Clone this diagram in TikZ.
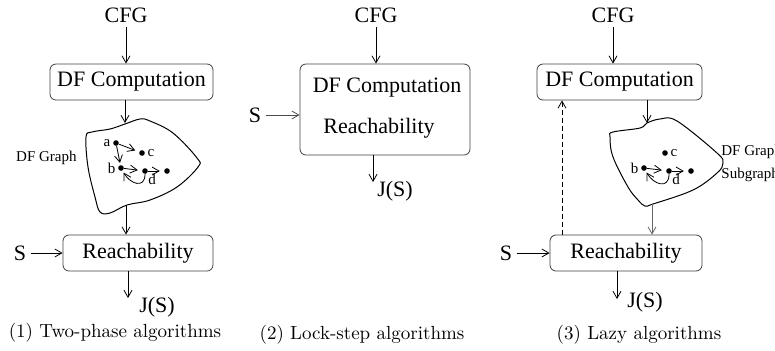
\documentclass[tikz,border=0pt]{standalone}
\usepackage{fontspec}
\newfontfamily\timesfont{Liberation Serif}
\usetikzlibrary{arrows.meta}

\tikzset{
  lbl/.style={font=\timesfont\fontsize{11}{13}\selectfont, inner sep=2pt},
  tiny/.style={font=\timesfont\fontsize{7.5}{9}\selectfont, inner sep=1pt},
  captxt/.style={font=\fontsize{9.5}{11}\selectfont, inner sep=0pt},
  stage/.style={draw=black!75, rounded corners=3pt, minimum height=18pt, inner sep=0pt,
    font=\timesfont\fontsize{11}{13}\selectfont},
  dot/.style={circle, fill, inner sep=0pt, minimum size=2.8pt},
  blob/.style={line width=0.5pt},
}

\begin{document}
\begin{tikzpicture}[x=0.5pt, y=-0.5pt, >={Straight Barb[length=3.5pt,width=4pt]}]
    \useasboundingbox (0,0) rectangle (775,350);

    % (1) Two-phase
    \node[lbl] (cfgA) at (126,15) {CFG};
    \node[stage, minimum width=81.5pt] (dfA) at (131.5,82) {DF Computation};
    \coordinate (topA) at (125,123);
    \coordinate (botA) at (126,206);
    \draw[blob] plot[smooth cycle, tension=0.6] coordinates {(125,124) (140,119) (150,121) (173,133)
      (197,158) (198,167) (177,187) (150,200) (127,205) (110,213) (100,212) (95,197) (88,167)
      (86,137) (92,132) (110,129)};
    \node[tiny, anchor=east] (grA) at (79,158) {DF Graph};
    \node[dot, label={[tiny]left:a}] (a) at (116,143) {};
    \node[dot, label={[tiny]right:c}] (c) at (142,153) {};
    \node[dot, label={[tiny]left:b}] (b) at (121,168) {};
    \node[dot, label={[tiny, label distance=-1pt]below right:d}] (d) at (145,171) {};
    \node[dot] (e) at (167,171) {};
    \draw[->, shorten >=2pt] (a) -- (c);
    \draw[->, shorten >=1pt] (a) -- (b);
    \draw[->, shorten >=2pt] (b) -- (d);
    \draw[->, shorten >=2pt] (d) -- (e);
    \draw[->, shorten >=1pt] (d) to[out=-90, in=-60, looseness=1.7] (b);
    \node[stage, minimum width=75pt] (reachA) at (138,253) {Reachability};
    \node[lbl] (sA) at (20,253) {S};
    \coordinate (endA) at (128,298);
    \node[lbl] (jsA) at (157,307) {J(S)};
    \draw[->] (cfgA) -- (cfgA |- dfA.north);
    \draw[->] (dfA.south -| topA) -- (topA);
    \draw[->] (botA) -- (botA |- reachA.north);
    \draw[->] (sA) -- (reachA);
    \draw[->] (reachA.south -| endA) -- (endA);
    \node[captxt] (capA) at (115,333) {(1) Two-phase algorithms};

    % (2) Lock-step
    \node[lbl] (cfgB) at (376,15) {CFG};
    \node[stage, minimum width=85pt, minimum height=45.5pt] (lockB) at (385,109.5) {};
    \node[lbl] (dfB) at (387,88) {DF Computation};
    \node[lbl] (reachB) at (379,128) {Reachability};
    \node[lbl] (sB) at (255,115) {S};
    \coordinate (endB) at (373,182);
    \node[lbl] (jsB) at (395,191) {J(S)};
    \draw[->] (cfgB) -- (cfgB |- lockB.north);
    \draw[->, black!70] (sB) -- (sB -| lockB.west);
    \draw[->] (lockB.south -| endB) -- (endB);
    \node[captxt] (capB) at (362,335) {(2) Lock-step algorithms};

    % (3) Lazy
    \node[lbl] (cfgC) at (613,15) {CFG};
    \node[stage, minimum width=82.5pt] (dfC) at (619.5,82) {DF Computation};
    \coordinate (topC) at (647,123);
    \coordinate (botC) at (652,204);
    \draw[blob] plot[smooth cycle, tension=0.6] coordinates {(647,123) (660,119) (677,121) (717,153)
      (723,163) (717,173) (693,190) (653,204) (645,206) (638,200) (628,187) (613,157) (610,137)
      (613,132) (640,128)};
    \node[tiny, anchor=west] (grC) at (719,152) {DF Graph};
    \node[tiny, anchor=west] (subC) at (719,175) {Subgraph};
    \node[dot, label={[tiny]right:c}] (c3) at (665,153) {};
    \node[dot, label={[tiny]left:b}] (b3) at (644,168) {};
    \node[dot, label={[tiny, label distance=-1pt]below right:d}] (d3) at (669,171) {};
    \node[dot] (e3) at (691,171) {};
    \draw[->, shorten >=2pt] (b3) -- (d3);
    \draw[->, shorten >=2pt] (d3) -- (e3);
    \draw[->, shorten >=1pt] (d3) to[out=-90, in=-60, looseness=1.7] (b3);
    \node[stage, minimum width=76pt] (reachC) at (626,253) {Reachability};
    \node[lbl] (sC) at (506,253) {S};
    \coordinate (fbC) at (562,0);
    \coordinate (endC) at (617,299);
    \node[lbl] (jsC) at (645,302) {J(S)};
    \draw[->] (cfgC) -- (cfgC |- dfC.north);
    \draw[->] (dfC.south -| topC) -- (topC);
    \draw[->, black!60] (botC) -- (botC |- reachC.north);
    \draw[->] (sC) -- (reachC);
    \draw[->, dash pattern=on 2.5pt off 1.5pt] (reachC.north -| fbC) -- (dfC.south -| fbC);
    \draw[->] (reachC.south -| endC) -- (endC);
    \node[captxt] (capC) at (639,335) {(3) Lazy algorithms};
\end{tikzpicture}
\end{document}
